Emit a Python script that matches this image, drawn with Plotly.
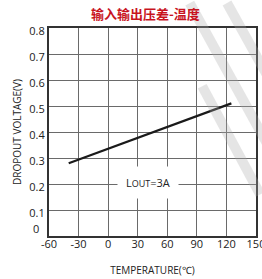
import plotly.graph_objects as go

temperature = [-40, 0, 30, 60, 90, 125]
dropout_v = [0.28, 0.336, 0.378, 0.419, 0.461, 0.51]
x_ticks = [-60, -30, 0, 30, 60, 90, 120, 150]
y_ticks = [0, 0.1, 0.2, 0.3, 0.4, 0.5, 0.6, 0.7, 0.8]
y_tick_labels = ["", "0.1", "0.2", "0.3", "0.4", "0.5", "0.6", "0.7", "0.8"]

fig = go.Figure()
fig.add_trace(go.Scatter(x=temperature, y=dropout_v, mode="lines",
                         line=dict(color="#1a1a1a", width=2.2), showlegend=False))

# faint watermark-like diagonal stripes
for (x0, y0, x1, y1) in [(0.68, 1.12, 1.05, 0.45), (0.86, 1.12, 1.05, 0.78), (0.74, 0.72, 1.02, 0.2)]:
    fig.add_shape(type="line", xref="paper", yref="paper", x0=x0, y0=y0, x1=x1, y1=y1,
                  line=dict(color="rgba(170,170,170,0.3)", width=10), layer="above")

fig.add_annotation(x=40, y=0.205, text="L<span style='font-size:9px'>OUT</span>=3A",
                   showarrow=False, bgcolor="white", borderpad=8,
                   font=dict(family="Open Sans, Arial", size=11, color="#222"))

# zero label of the y axis, placed slightly above-left like the reference
fig.add_annotation(xref="paper", x=-0.085, y=y_ticks[0], yshift=8, text="0", showarrow=False,
                   font=dict(family="Open Sans, Arial", size=11, color="#222"))

fig.update_layout(
    width=262, height=279,
    margin=dict(l=49, r=6, t=28, b=43, autoexpand=False),
    paper_bgcolor="white", plot_bgcolor="white",
    title=dict(text="<b>输入输出压差-温度</b>", x=0.555, xanchor="center", y=0.948, yanchor="middle",
               font=dict(family="Noto Sans CJK SC", size=13, color="#c8141e")),
    font=dict(family="Open Sans, Arial", size=11, color="#222"),
)
fig.update_xaxes(range=[-60, 150], tickvals=x_ticks, ticktext=[str(v) for v in x_ticks],
                 showgrid=True, gridcolor="#6a6a6a", gridwidth=1,
                 showline=True, linecolor="#333", linewidth=2, mirror=True,
                 zeroline=False, ticks="", tickfont=dict(size=11), automargin=False,
                 ticklabeloverflow="allow", ticklabelstandoff=-3,
                 title=dict(text="TEMPERATURE(℃)", font=dict(size=10), standoff=17))
fig.update_yaxes(range=[0, 0.8], tickvals=y_ticks, ticktext=y_tick_labels,
                 showgrid=True, gridcolor="#6a6a6a", gridwidth=1,
                 showline=True, linecolor="#333", linewidth=2, mirror=True,
                 zeroline=False, ticks="", tickfont=dict(size=11), automargin=False,
                 ticklabelshift=3,
                 title=dict(text="DROPOUT VOLTAGE(V)", font=dict(size=10), standoff=6))

fig.write_html("out.html", config={"displayModeBar": False},
               post_script="document.body.style.margin='0';document.body.style.overflow='hidden';")
